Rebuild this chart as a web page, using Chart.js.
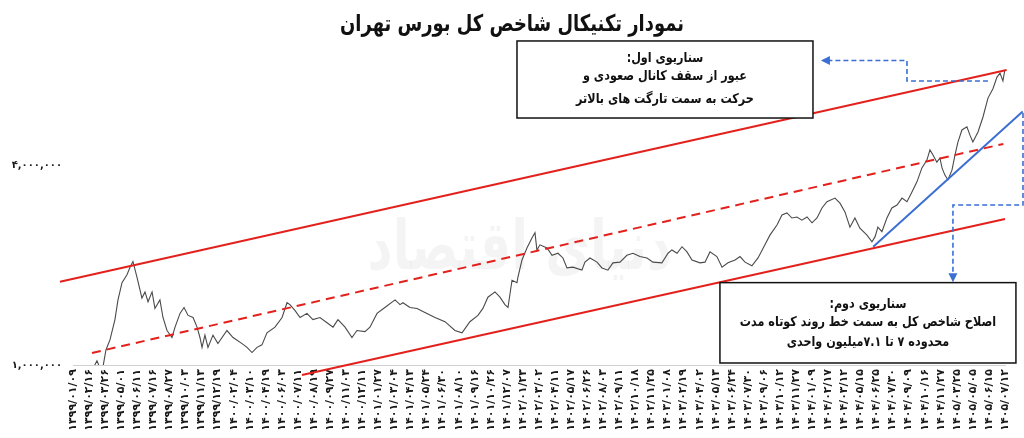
<!DOCTYPE html>
<html>
<head>
<meta charset="utf-8">
<script src="https://cdn.jsdelivr.net/npm/chart.js@4.4.1/dist/chart.umd.min.js"></script>
<style>
  html, body { margin: 0; padding: 0; background: #fff; }
  #wrap { width: 1024px; height: 438px; }
</style>
</head>
<body>
<div id="wrap"><canvas id="tedpix"></canvas></div>
<script>
// tick labels (jalali dates) along the x axis, one per unit
const xLabels = [
  '۱۳۹۹/۰۱/۰۹','۱۳۹۹/۰۲/۱۶','۱۳۹۹/۰۳/۲۶','۱۳۹۹/۰۵/۰۱','۱۳۹۹/۰۶/۱۱','۱۳۹۹/۰۷/۱۶','۱۳۹۹/۰۸/۲۷','۱۳۹۹/۱۰/۰۳',
  '۱۳۹۹/۱۱/۱۳','۱۳۹۹/۱۲/۱۹','۱۴۰۰/۰۲/۰۴','۱۴۰۰/۰۳/۱۰','۱۴۰۰/۰۴/۱۹','۱۴۰۰/۰۶/۰۳','۱۴۰۰/۰۷/۱۱','۱۴۰۰/۰۸/۱۹',
  '۱۴۰۰/۰۹/۲۷','۱۴۰۰/۱۱/۰۳','۱۴۰۰/۱۲/۱۱','۱۴۰۱/۰۱/۲۷','۱۴۰۱/۰۳/۰۴','۱۴۰۱/۰۴/۱۳','۱۴۰۱/۰۵/۲۴','۱۴۰۱/۰۶/۳۰',
  '۱۴۰۱/۰۸/۱۰','۱۴۰۱/۰۹/۱۶','۱۴۰۱/۱۰/۲۶','۱۴۰۱/۱۲/۰۷','۱۴۰۲/۰۱/۲۳','۱۴۰۲/۰۳/۰۲','۱۴۰۲/۰۴/۱۱','۱۴۰۲/۰۵/۱۷',
  '۱۴۰۲/۰۶/۲۶','۱۴۰۲/۰۸/۰۳','۱۴۰۲/۰۹/۱۱','۱۴۰۲/۱۰/۱۸','۱۴۰۲/۱۱/۲۵','۱۴۰۳/۰۱/۰۸','۱۴۰۳/۰۲/۱۹','۱۴۰۳/۰۴/۰۲',
  '۱۴۰۳/۰۵/۱۳','۱۴۰۳/۰۶/۲۴','۱۴۰۳/۰۷/۳۰','۱۴۰۳/۰۹/۰۶','۱۴۰۳/۱۰/۱۲','۱۴۰۳/۱۱/۲۷','۱۴۰۴/۰۱/۰۹','۱۴۰۴/۰۲/۱۷',
  '۱۴۰۴/۰۳/۱۲','۱۴۰۴/۰۵/۱۵','۱۴۰۴/۰۶/۲۵','۱۴۰۴/۰۷/۳۰','۱۴۰۴/۰۹/۰۹','۱۴۰۴/۱۰/۱۶','۱۴۰۴/۱۱/۲۷','۱۴۰۵/۰۳/۲۵',
  '۱۴۰۵/۰۵/۰۵','۱۴۰۵/۰۶/۱۵','۱۴۰۵/۰۷/۱۲'
];

// index position on the date axis (in tick units) and index value in millions
const positions = [
  1.31,1.49,1.68,1.87,2.05,2.30,2.61,2.80,3.05,3.36,3.55,3.73,3.98,4.29,4.48,4.67,4.92,5.10,5.41,5.60,
  5.85,6.16,6.35,6.66,6.91,7.16,7.47,7.72,7.90,8.03,8.21,8.40,8.71,9.02,9.58,9.96,10.52,10.83,11.14,11.45,
  11.76,12.07,12.57,13.01,13.32,13.50,13.81,14.13,14.56,14.93,15.37,15.81,16.18,16.49,16.93,17.36,17.67,18.17,18.48,18.92,
  19.41,20.04,20.35,20.53,20.97,21.41,21.90,22.53,23.15,23.77,24.21,24.70,25.20,25.51,25.82,26.26,26.57,26.88,27.07,27.32,
  27.63,27.69,27.94,28.25,28.56,28.75,28.87,29.06,29.50,29.81,30.18,30.49,30.74,31.11,31.67,31.86,32.17,32.61,32.92,33.29,
  33.60,34.04,34.47,34.85,35.28,35.72,36.09,36.65,37.03,37.27,37.59,37.90,38.21,38.52,39.02,39.33,39.64,40.07,40.39,40.76,
  41.20,41.51,41.82,42.25,42.63,43.06,43.37,43.81,44.12,44.43,44.74,45.05,45.36,45.68,45.99,46.30,46.61,46.92,47.42,47.73,
  48.04,48.35,48.66,48.97,49.41,49.72,49.91,50.09,50.34,50.65,50.96,51.28,51.59,51.90,52.21,52.52,52.83,53.14,53.33,53.52,
  53.76,53.95,54.08,54.26,54.45,54.70,54.89,55.07,55.32,55.63,55.82,56.00,56.32,56.63,56.94,57.25,57.50,57.69,57.87,57.99
];
const values = [
  0.99,1.03,0.98,0.99,1.11,1.19,1.37,1.57,1.77,1.87,1.97,2.05,1.84,1.59,1.66,1.55,1.66,1.48,1.57,1.39,
  1.27,1.21,1.30,1.43,1.49,1.41,1.39,1.30,1.21,1.13,1.23,1.13,1.23,1.16,1.27,1.21,1.16,1.13,1.09,1.13,
  1.15,1.25,1.30,1.39,1.54,1.52,1.46,1.39,1.43,1.37,1.39,1.34,1.30,1.37,1.30,1.21,1.27,1.26,1.30,1.43,
  1.49,1.57,1.52,1.54,1.49,1.48,1.44,1.39,1.35,1.27,1.25,1.35,1.41,1.48,1.60,1.66,1.60,1.52,1.49,1.80,
  1.77,1.84,2.07,2.25,2.41,2.50,2.22,2.30,2.25,2.14,2.17,2.10,1.96,1.97,1.93,2.04,2.10,2.04,1.96,1.93,
  2.03,2.04,2.14,2.17,2.12,2.10,2.04,2.03,2.17,2.22,2.17,2.27,2.19,2.07,2.03,2.04,2.19,2.12,1.97,2.03,
  2.07,2.12,2.04,1.99,2.10,2.30,2.46,2.64,2.83,2.87,2.77,2.79,2.73,2.79,2.68,2.77,2.97,3.10,3.18,3.07,
  2.89,2.60,2.77,2.58,2.46,2.35,2.43,2.60,2.52,2.77,2.97,3.03,3.18,3.10,3.32,3.56,3.92,4.14,4.44,4.29,
  4.08,4.20,3.92,3.73,3.61,3.86,4.29,4.69,5.10,5.21,4.92,4.69,5.03,5.58,6.36,6.79,7.36,7.56,7.16,7.73
];

// hand drawn channel and trend lines (position, millions)
const upperChannel = [{ x: -0.81, y: 1.78 }, { x: 58.1, y: 7.73 }];
const middleChannel = [{ x: 1.18, y: 1.087 }, { x: 57.9, y: 4.63 }];
const lowerChannel = [{ x: 14.25, y: 0.933 }, { x: 58.0, y: 2.75 }];
const trendLine = [{ x: 49.8, y: 2.27 }, { x: 59.1, y: 5.8 }];

const yTicks = [1, 4];
const yTickLabels = ['۱,۰۰۰,۰۰۰', '۴,۰۰۰,۰۰۰'];

const FONT = "'DejaVu Sans', 'Noto Sans', sans-serif";
const RED = '#e3211c';
const BLUE = '#3b6fd4';

const series = positions.map((p, i) => ({ x: p, y: values[i] }));

function lineSet(data, color, dash) {
  return {
    data: data,
    borderColor: color,
    borderWidth: 2,
    borderDash: dash || [],
    pointRadius: 0,
    showLine: true,
    clip: false,
    order: 1
  };
}

// text squeezed horizontally, the original uses a narrow persian face
function squeezed(ctx, s, x, y, font, sx) {
  ctx.save();
  ctx.translate(x, y);
  ctx.scale(sx, 1);
  ctx.font = font;
  ctx.textAlign = 'center';
  ctx.textBaseline = 'middle';
  ctx.direction = 'rtl';
  ctx.fillText(s, 0, 0);
  ctx.restore();
}

// notes, boxes and dashed arrows, placed in axis units
const notesPlugin = {
  id: 'notes',
  beforeDatasetsDraw(chart) {
    const ctx = chart.ctx;
    const x = chart.scales.x, y = chart.scales.y;
    ctx.save();
    ctx.fillStyle = 'rgba(0,0,0,0.045)';
    squeezed(ctx, 'دنیای اقتصاد', x.getPixelForValue(27.8), y.getPixelForValue(2.2), "bold 68px " + FONT, 0.72);
    ctx.restore();
  },
  afterDatasetsDraw(chart) {
    const ctx = chart.ctx;
    const sx = chart.scales.x, sy = chart.scales.y;
    const X = v => sx.getPixelForValue(v);
    const Y = v => sy.getPixelForValue(v);

    // title
    ctx.save();
    ctx.fillStyle = '#111';
    squeezed(ctx, 'نمودار تکنیکال شاخص کل بورس تهران', chart.width / 2, 25, "bold 23px " + FONT, 0.78);
    ctx.restore();

    function box(x0, x1, y0, y1, lines, cx, ys) {
      const l = X(x0), r = X(x1), t = Y(y0), b = Y(y1);
      ctx.save();
      ctx.fillStyle = '#fff';
      ctx.fillRect(l, t, r - l, b - t);
      ctx.strokeStyle = '#111';
      ctx.lineWidth = 1.5;
      ctx.strokeRect(l, t, r - l, b - t);
      ctx.fillStyle = '#111';
      lines.forEach((s, i) => squeezed(ctx, s, X(cx), Y(ys[i]), "bold 13.5px " + FONT, 0.83));
      ctx.restore();
    }

    function arrow(pts, dir) {
      ctx.save();
      ctx.strokeStyle = BLUE;
      ctx.fillStyle = BLUE;
      ctx.lineWidth = 1.6;
      ctx.setLineDash([5, 3]);
      ctx.beginPath();
      pts.forEach((p, i) => {
        const px = X(p[0]), py = Y(p[1]);
        if (i === 0) ctx.moveTo(px, py); else ctx.lineTo(px, py);
      });
      ctx.stroke();
      ctx.setLineDash([]);
      const last = pts[pts.length - 1];
      const ex = X(last[0]), ey = Y(last[1]);
      ctx.beginPath();
      if (dir === 'left') {
        ctx.moveTo(ex - 2, ey); ctx.lineTo(ex + 7, ey - 4.5); ctx.lineTo(ex + 7, ey + 4.5);
      } else {
        ctx.moveTo(ex, ey + 2); ctx.lineTo(ex - 4.5, ey - 7); ctx.lineTo(ex + 4.5, ey - 7);
      }
      ctx.closePath();
      ctx.fill();
      ctx.restore();
    }

    arrow([[56.94, 7.16], [51.90, 7.16], [51.90, 8.25], [46.67, 8.25]], 'left');
    arrow([[59.12, 5.74], [59.12, 3.03], [54.76, 3.03], [54.76, 1.80]], 'down');

    box(27.63, 46.05, 9.45, 5.54,
      ['سناریوی اول:', 'عبور از سقف کانال صعودی و', 'حرکت به سمت تارگت های بالاتر'],
      36.84, [8.36, 7.38, 6.28]);
    box(40.26, 58.68, 1.77, 1.014,
      ['سناریوی دوم:', 'اصلاح شاخص کل به سمت خط روند کوتاه مدت', 'محدوده ۷ تا ۷.۱میلیون واحدی'],
      49.47, [1.516, 1.338, 1.165]);
  }
};

new Chart(document.getElementById('tedpix'), {
  type: 'scatter',
  data: {
    datasets: [
      lineSet(upperChannel, RED),
      lineSet(middleChannel, RED, [9, 6]),
      lineSet(lowerChannel, RED),
      lineSet(trendLine, BLUE),
      {
        data: series,
        borderColor: '#4a4a4a',
        borderWidth: 1.1,
        pointRadius: 0,
        showLine: true,
        tension: 0,
        order: 2
      }
    ]
  },
  options: {
    responsive: true,
    maintainAspectRatio: false,
    animation: false,
    layout: { padding: { top: 45, right: 19, bottom: 0, left: 0 } },
    plugins: {
      legend: { display: false },
      tooltip: { enabled: false },
      title: { display: false }
    },
    scales: {
      x: {
        type: 'linear',
        min: 0,
        max: 58,
        afterFit: s => { s.height = 73; },
        grid: { display: false, drawTicks: false },
        border: { display: true, color: '#d0d0d0', width: 1 },
        ticks: {
          stepSize: 1,
          autoSkip: false,
          maxRotation: 90,
          minRotation: 90,
          padding: 4,
          color: '#1a1a1a',
          font: { family: FONT, size: 11, weight: 'bold' },
          callback: v => xLabels[v] || ''
        }
      },
      y: {
        type: 'logarithmic',
        min: 1,
        max: 9.19,
        afterFit: s => { s.width = 73; },
        afterBuildTicks: s => { s.ticks = yTicks.map(v => ({ value: v })); },
        grid: { display: false, drawTicks: false },
        border: { display: false },
        ticks: {
          padding: 11,
          color: '#1a1a1a',
          font: { family: FONT, size: 10, weight: 'bold' },
          callback: v => yTickLabels[yTicks.indexOf(v)]
        }
      }
    }
  },
  plugins: [notesPlugin]
});
</script>
</body>
</html>
